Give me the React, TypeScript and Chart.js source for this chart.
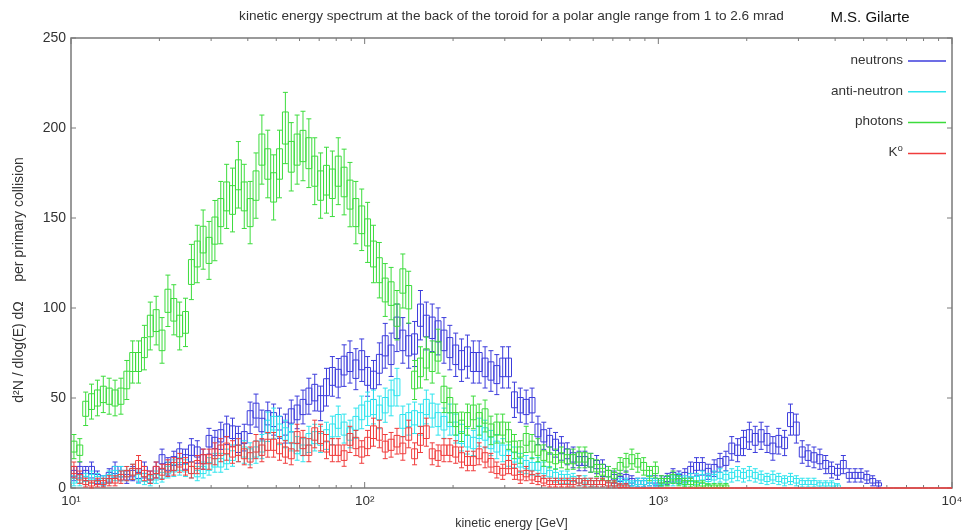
import { useEffect, useRef } from 'react';
import { Chart, registerables } from 'chart.js';

Chart.register(...registerables);

// ---------- binning of the histogram (log10 of the kinetic energy) ----------
const BIN_LOG_START = 1; // first bin starts at 10 GeV
const BINS_PER_DECADE = 50;

// ---------- series ----------
const SERIES_LABELS = ['neutrons', 'anti-neutron', 'photons', 'K⁰'];
const SERIES_COLORS = ['#3c3cdc', '#2ee4ee', '#3cdc3c', '#f03c3c'];

// d2N / dlog(E) dOmega per bin
const NEUTRONS = [
  8, 10, 8, 10, 6, 4, 7, 10, 8, 6,
  8, 7, 10, 6, 10, 16, 12, 15, 19, 16,
  21, 20, 16, 26, 25, 29, 32, 31, 27, 28,
  39, 43, 35, 39, 38, 36, 33, 40, 42, 45,
  51, 53, 47, 56, 62, 61, 68, 70, 66, 71,
  62, 60, 69, 79, 74, 89, 82, 79, 80, 96,
  90, 89, 87, 82, 78, 74, 71, 73, 70, 70,
  67, 65, 63, 67, 67, 49, 46, 45, 46, 32,
  29, 26, 24, 22, 19, 17, 15, 15, 14, 13,
  11, 8, 6, 5, 6, 4, 3, 3, 4, 4,
  4, 5, 7, 6, 7, 10, 12, 12, 9, 11,
  14, 15, 22, 21, 25, 29, 27, 29, 27, 22,
  26, 25, 38, 33, 20, 18, 17, 16, 13, 10,
  9, 13, 7, 7, 7, 6, 4, 2,
];

const ANTI_NEUTRONS = [
  4, 4, 5, 6, 5, 4, 6, 8, 8, 8,
  9, 6, 5, 4, 6, 7, 10, 11, 12, 11,
  10, 8, 10, 12, 14, 14, 16, 18, 21, 20,
  19, 20, 23, 34, 36, 32, 30, 28, 22, 21,
  27, 28, 27, 29, 32, 37, 33, 30, 36, 42,
  44, 45, 42, 46, 50, 56, 37, 38, 39, 38,
  45, 43, 38, 36, 38, 33, 28, 26, 25, 31,
  30, 25, 23, 21, 18, 17, 14, 13, 12, 12,
  10, 8, 7, 6, 6, 5, 4, 4, 3, 3,
  3, 2, 2, 3, 3, 2, 3, 3, 4, 3,
  3, 4, 4, 5, 4, 5, 5, 6, 5, 6,
  7, 6, 7, 8, 7, 8, 7, 6, 5, 6,
  5, 4, 5, 4, 3, 3, 3, 2, 2, 2,
  1,
];

const PHOTONS = [
  23, 21, 44, 48, 50, 52, 51, 50, 51, 60,
  70, 70, 78, 90, 93, 82, 104, 99, 90, 92,
  120, 130, 138, 132, 143, 153, 162, 160, 174, 162,
  153, 168, 188, 180, 167, 180, 200, 184, 188, 190,
  186, 176, 168, 171, 169, 176, 170, 163, 153, 149,
  142, 130, 121, 110, 108, 96, 115, 106, 60, 67,
  72, 70, 76, 52, 46, 38, 34, 38, 42, 38,
  40, 32, 33, 33, 29, 23, 20, 27, 23, 21,
  18, 17, 16, 17, 16, 16, 17, 17, 14, 11,
  9, 8, 7, 12, 14, 16, 14, 12, 8, 10,
  4, 4, 6, 4, 3, 3, 2, 2, 1, 1,
  1, 1,
];

const K0 = [
  10, 6, 3, 2, 3, 3, 4, 4, 6, 8,
  9, 13, 8, 6, 10, 9, 11, 12, 14, 12,
  10, 13, 16, 16, 19, 21, 22, 20, 21, 19,
  17, 23, 21, 24, 24, 22, 20, 19, 28, 25,
  21, 30, 28, 23, 21, 21, 18, 27, 25, 20,
  25, 31, 30, 23, 24, 26, 22, 30, 19, 27,
  31, 19, 18, 21, 21, 20, 17, 15, 15, 19,
  17, 14, 10, 9, 13, 9, 6, 8, 6, 5,
  4, 3, 3, 3, 3, 3, 4, 3, 3, 3,
  3, 2, 2, 1, 1, 0, 0, 0, 0, 0,
  0, 0, 0, 0, 0, 0, 0, 0, 0, 0,
  0, 0, 0, 0, 0, 0, 0, 0, 0, 0,
  0, 0, 0, 0, 0, 0, 0, 0, 0, 0,
  0, 0, 0, 0, 0, 0, 0, 0, 0, 0,
  0, 0, 0, 0, 0, 0, 0, 0, 0, 0,
];

const SERIES_VALUES = [NEUTRONS, ANTI_NEUTRONS, PHOTONS, K0];

// statistical uncertainty taken as ERR_SCALE * sqrt(value)
const ERR_SCALE = 1.4;

// ---------- axes ----------
const X_MIN = 10;
const X_MAX = 10000;
const X_TICK_VALUES = [10, 100, 1000, 10000];
const X_TICK_LABELS = ['10¹', '10²', '10³', '10⁴'];
const X_MINOR_FACTORS = [2, 3, 4, 5, 6, 7, 8, 9];
const Y_MIN = 0;
const Y_MAX = 250;
const Y_STEP = 50;

// ---------- texts ----------
const TITLE = 'kinetic energy spectrum at the back of the toroid for a polar angle range from 1 to 2.6 mrad';
const AUTHOR = 'M.S. Gilarte';
const X_TITLE = 'kinetic energy [GeV]';
const Y_TITLE = 'd²N / dlog(E) dΩ     per primary collision';

const FONT = "'Liberation Sans', Arial, 'DejaVu Sans', sans-serif";
const TEXT_COLOR = '#333';
const FRAME_COLOR = '#7a7a7a';
const BOX_FRACTION = 0.45;
const CAP = 2.5;

function toBins(values: number[]) {
  return values.map((v, i) => {
    const lo = Math.pow(10, BIN_LOG_START + i / BINS_PER_DECADE);
    const hi = Math.pow(10, BIN_LOG_START + (i + 1) / BINS_PER_DECADE);
    const x = Math.pow(10, BIN_LOG_START + (i + 0.5) / BINS_PER_DECADE);
    return { x, y: v, lo, hi, err: ERR_SCALE * Math.sqrt(v) };
  });
}

const framePlugin = {
  id: 'frameTicks',
  beforeDatasetsDraw(chart: any) {
    const { ctx, chartArea: a, scales } = chart;
    const xs = scales.x;
    const ys = scales.y;
    ctx.save();
    ctx.strokeStyle = FRAME_COLOR;
    ctx.lineWidth = 1.5;
    ctx.strokeRect(a.left, a.top, a.right - a.left, a.bottom - a.top);
    ctx.lineWidth = 1;
    ctx.beginPath();
    for (let v = Y_MIN; v <= Y_MAX; v += Y_STEP) {
      const py = ys.getPixelForValue(v);
      ctx.moveTo(a.left, py);
      ctx.lineTo(a.left + 5, py);
      ctx.moveTo(a.right, py);
      ctx.lineTo(a.right - 5, py);
    }
    X_TICK_VALUES.forEach((d) => {
      const px = xs.getPixelForValue(d);
      ctx.moveTo(px, a.bottom);
      ctx.lineTo(px, a.bottom - 6);
      ctx.moveTo(px, a.top);
      ctx.lineTo(px, a.top + 6);
      if (d < X_MAX) {
        X_MINOR_FACTORS.forEach((f) => {
          const pm = xs.getPixelForValue(d * f);
          ctx.moveTo(pm, a.bottom);
          ctx.lineTo(pm, a.bottom - 3);
          ctx.moveTo(pm, a.top);
          ctx.lineTo(pm, a.top + 3);
        });
      }
    });
    ctx.stroke();
    ctx.restore();
  },
};

const histogramPlugin = {
  id: 'histogramBoxes',
  afterDatasetsDraw(chart: any) {
    const { ctx, chartArea: a, scales } = chart;
    const xs = scales.x;
    const ys = scales.y;
    ctx.save();
    ctx.beginPath();
    ctx.rect(a.left, a.top - 1, a.right - a.left, a.bottom - a.top + 2);
    ctx.clip();
    ctx.lineWidth = 1;
    chart.data.datasets.forEach((ds: any) => {
      ctx.strokeStyle = ds.borderColor;
      ctx.beginPath();
      ds.data.forEach((p: any) => {
        const xl = xs.getPixelForValue(p.lo);
        const xh = xs.getPixelForValue(p.hi);
        const xc = xs.getPixelForValue(p.x);
        const bt = ys.getPixelForValue(p.y + BOX_FRACTION * p.err);
        const bb = ys.getPixelForValue(Math.max(0, p.y - BOX_FRACTION * p.err));
        ctx.rect(xl, bt, xh - xl, bb - bt);
        if (p.err > 0) {
          const t = ys.getPixelForValue(p.y + p.err);
          const b = ys.getPixelForValue(Math.max(0, p.y - p.err));
          ctx.moveTo(xc, t);
          ctx.lineTo(xc, b);
          ctx.moveTo(xc - CAP, t);
          ctx.lineTo(xc + CAP, t);
          ctx.moveTo(xc - CAP, b);
          ctx.lineTo(xc + CAP, b);
        }
      });
      ctx.stroke();
    });
    ctx.restore();
  },
};

const textPlugin = {
  id: 'texts',
  afterDraw(chart: any) {
    const { ctx, chartArea: a } = chart;
    ctx.save();
    ctx.fillStyle = TEXT_COLOR;
    // title, stretched to the width it has in the reference
    ctx.font = `12px ${FONT}`;
    const w = ctx.measureText(TITLE).width;
    const size = (12 * 545) / w;
    ctx.font = `${size.toFixed(2)}px ${FONT}`;
    ctx.textAlign = 'center';
    ctx.textBaseline = 'alphabetic';
    ctx.fillText(TITLE, (a.left + a.right) / 2, 20);
    // author
    ctx.fillStyle = '#111';
    ctx.font = `15px ${FONT}`;
    ctx.fillText(AUTHOR, 870, 22);
    // x axis title
    ctx.fillStyle = TEXT_COLOR;
    ctx.font = `12.5px ${FONT}`;
    ctx.fillText(X_TITLE, (a.left + a.right) / 2, 527);
    // y axis title
    ctx.save();
    ctx.translate(19, 280);
    ctx.rotate(-Math.PI / 2);
    ctx.font = `14px ${FONT}`;
    ctx.textBaseline = 'middle';
    ctx.fillText(Y_TITLE, 0, 0);
    ctx.restore();
    // legend
    ctx.font = `13.5px ${FONT}`;
    ctx.textAlign = 'right';
    ctx.textBaseline = 'middle';
    chart.data.datasets.forEach((ds: any, i: number) => {
      const yy = 60 + i * 30.8;
      ctx.fillStyle = TEXT_COLOR;
      ctx.fillText(ds.label, 903, yy);
      ctx.strokeStyle = ds.borderColor;
      ctx.lineWidth = 1.5;
      ctx.beginPath();
      ctx.moveTo(908, yy + 1);
      ctx.lineTo(946, yy + 1);
      ctx.stroke();
    });
    ctx.restore();
  },
};

export default function App() {
  const ref = useRef<HTMLCanvasElement>(null);
  useEffect(() => {
    const canvas = ref.current;
    if (!canvas) return;
    const chart = new Chart(canvas, {
      type: 'line',
      data: {
        datasets: SERIES_VALUES.map((vals, i) => ({
          label: SERIES_LABELS[i],
          data: toBins(vals) as any,
          borderColor: SERIES_COLORS[i],
          backgroundColor: SERIES_COLORS[i],
          showLine: false,
          pointRadius: 0,
          pointHoverRadius: 0,
        })),
      },
      options: {
        animation: false,
        responsive: true,
        maintainAspectRatio: false,
        events: [],
        layout: { padding: { left: 16, top: 38, right: 19, bottom: 0 } },
        plugins: {
          legend: { display: false },
          tooltip: { enabled: false },
          title: { display: false },
        },
        scales: {
          x: {
            type: 'logarithmic',
            min: X_MIN,
            max: X_MAX,
            grid: { display: false, drawTicks: false },
            border: { display: false },
            ticks: {
              autoSkip: false,
              maxRotation: 0,
              padding: 5,
              color: TEXT_COLOR,
              font: { size: 13.5, family: FONT },
              callback: (value: any) => {
                const idx = X_TICK_VALUES.findIndex((t) => Math.abs(t - Number(value)) < 1e-6 * t);
                return idx >= 0 ? X_TICK_LABELS[idx] : '';
              },
            },
            afterFit: (scale: any) => {
              scale.height = 44;
            },
          },
          y: {
            type: 'linear',
            min: Y_MIN,
            max: Y_MAX,
            grid: { display: false, drawTicks: false },
            border: { display: false },
            ticks: {
              stepSize: Y_STEP,
              padding: 5,
              color: TEXT_COLOR,
              font: { size: 14, family: FONT },
            },
            afterFit: (scale: any) => {
              scale.width = 55;
            },
          },
        },
      },
      plugins: [framePlugin, histogramPlugin, textPlugin],
    });
    return () => chart.destroy();
  }, []);
  return (
    <div style={{ position: 'fixed', left: 0, top: 0, width: 971, height: 532, background: '#fff' }}>
      <canvas ref={ref} />
    </div>
  );
}
